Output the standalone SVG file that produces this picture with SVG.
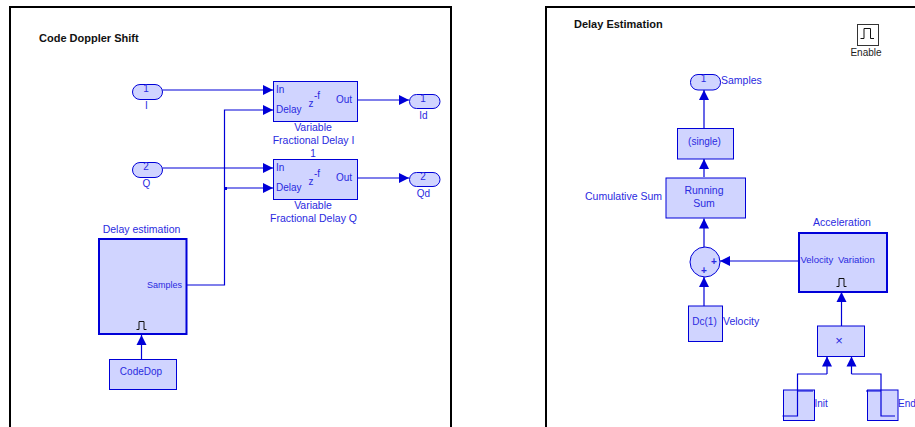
<svg xmlns="http://www.w3.org/2000/svg" width="915" height="427" viewBox="0 0 915 427">
<style>
text{font-family:"Liberation Sans",Arial,sans-serif;font-size:10px;fill:#2a2ae0}
.m{text-anchor:middle}
.e{text-anchor:end}
.l{font-size:10.500px}
.s{font-size:9px}
.t{font-size:11px;font-weight:bold;fill:#111}
.k{fill:#222}
.b{fill:#d0d4ff;stroke:#0000d8;stroke-width:1}
.h{fill:#d0d4ff;stroke:#0000d8;stroke-width:2}
.w{fill:none;stroke:#0000d8;stroke-width:1.200}
.p{fill:none;stroke:#111;stroke-width:1}
.f{fill:none;stroke:#000;stroke-width:2}
</style>
<defs>
<marker id="a" markerUnits="userSpaceOnUse" markerWidth="11" markerHeight="11" refX="10" refY="5.500" orient="auto"><path d="M0,0.500L10,5.500L0,10.500Z" fill="#0000d8"/></marker>
</defs>
<path class="f" d="M10,427V7H451V427"/>
<path class="f" d="M546,427V7H915"/>
<text class="t" x="39" y="41.500">Code Doppler Shift</text>
<text class="t" x="574" y="28">Delay Estimation</text>
<g id="connectors">
<path class="w" marker-end="url(#a)" d="M162.500,90H273"/>
<path class="w" marker-end="url(#a)" d="M162.500,168H273"/>
<path class="w" marker-end="url(#a)" d="M187,285H224.500V110H273"/>
<path class="w" marker-end="url(#a)" d="M224.500,188H273"/>
<path class="w" marker-end="url(#a)" d="M357,100H409"/>
<path class="w" marker-end="url(#a)" d="M357,178H409"/>
<path class="w" marker-end="url(#a)" d="M141.500,359V335"/>
<rect x="224" y="187" width="3" height="3" fill="#0000d8"/>
<path class="w" marker-end="url(#a)" d="M704,128V90"/>
<path class="w" marker-end="url(#a)" d="M704,177V159"/>
<path class="w" marker-end="url(#a)" d="M704,247V218.500"/>
<path class="w" marker-end="url(#a)" d="M704,306V277"/>
<path class="w" marker-end="url(#a)" d="M799,261H720"/>
<path class="w" marker-end="url(#a)" d="M841.500,326V292"/>
<path class="w" marker-end="url(#a)" d="M827,374V356.500"/>
<path class="w" marker-end="url(#a)" d="M851.500,374V356.500"/>
</g>
<g id="inport-I"><rect class="b" x="132.500" y="84.500" width="30" height="15" rx="7.500"/><text class="m" x="146" y="92">1</text><text class="m" x="146.500" y="108.500">I</text></g>
<g id="inport-Q"><rect class="b" x="132.500" y="162.500" width="30" height="15" rx="7.500"/><text class="m" x="146" y="170">2</text><text class="m" x="146.500" y="186.500">Q</text></g>
<g id="delay-I"><rect class="b" x="273.500" y="81.500" width="84" height="40"/><text x="276" y="92.500">In</text><text x="276" y="112.500">Delay</text><text x="308.500" y="107">z</text><text x="314" y="99">-f</text><text class="e" x="352" y="102.500">Out</text><text class="m l" x="313" y="130.500">Variable</text><text class="m l" x="313.500" y="143.500">Fractional Delay I</text></g>
<g id="delay-Q"><rect class="b" x="273.500" y="159.500" width="84" height="40"/><text class="m" x="313" y="156.500">1</text><text x="276" y="170.500">In</text><text x="276" y="190.500">Delay</text><text x="308.500" y="185">z</text><text x="314" y="177">-f</text><text class="e" x="352" y="180.500">Out</text><text class="m l" x="313" y="208.500">Variable</text><text class="m l" x="313.500" y="221.500">Fractional Delay Q</text></g>
<g id="outport-Id"><rect class="b" x="409.500" y="94.500" width="30.500" height="14" rx="7"/><text class="m" x="423" y="102">1</text><text class="m" x="423.500" y="118.500">Id</text></g>
<g id="outport-Qd"><rect class="b" x="409.500" y="172.500" width="30.500" height="14" rx="7"/><text class="m" x="423" y="180">2</text><text class="m" x="423.500" y="196.500">Qd</text></g>
<g id="delay-estimation"><rect class="h" x="99" y="239" width="87.500" height="95"/><text class="m l" x="141.500" y="232.500">Delay estimation</text><text class="e s" x="182" y="288">Samples</text><path class="p" d="M136.500,329.500H139V321.500H144V329.500H146.500"/></g>
<g id="codedop"><rect class="b" x="109.500" y="359.500" width="67" height="30"/><text class="m" x="141" y="375">CodeDop</text></g>
<g id="enable"><rect x="857.500" y="24.500" width="21" height="21" fill="#fff" stroke="#333" stroke-width="1"/><path class="p" d="M860.500,38.500H864V28.500H870.500V38.500H874"/><text class="m k" x="866" y="55.500">Enable</text></g>
<g id="outport-samples"><rect class="b" x="690.500" y="74.500" width="30" height="15.500" rx="7.500"/><text class="m" x="703.500" y="82">1</text><text class="l" x="721" y="83.500">Samples</text></g>
<g id="single"><rect class="b" x="677.500" y="128.500" width="56" height="30.500"/><text class="m" x="704.500" y="144.500">(single)</text></g>
<g id="running-sum"><rect class="b" x="666" y="178" width="79.500" height="40"/><text class="m l" x="704" y="193.500">Running</text><text class="m l" x="704" y="206.500">Sum</text><text class="e l" x="662" y="200">Cumulative Sum</text></g>
<g id="sum"><circle class="b" cx="705" cy="262" r="15"/><text class="m" x="714" y="264.500" style="font-weight:bold">+</text><text class="m" x="704" y="274" style="font-weight:bold">+</text></g>
<g id="dc"><rect class="b" x="688.500" y="306" width="34" height="35.500"/><text class="m" x="704.500" y="324.500">Dc(1)</text><text class="l" x="723" y="325">Velocity</text></g>
<g id="acceleration"><rect class="h" x="799" y="233" width="88" height="59"/><text class="m l" x="842" y="225.500">Acceleration</text><text x="800.500" y="263" style="font-size:9.500px;word-spacing:2px">Velocity Variation</text><path class="p" d="M836.500,286.500H839V278.500H844V286.500H846.500"/></g>
<g id="product"><rect class="b" x="817.500" y="326" width="47" height="30.500"/><text class="m" x="839" y="344.500" style="font-size:13px">×</text></g>
<g id="init"><rect class="b" x="783.500" y="390" width="31" height="30.500"/><path class="w" d="M827,374H797.500V416H782.500M797.500,391H813"/><text x="814.500" y="407">Init</text></g>
<g id="end"><rect class="b" x="867.500" y="390" width="30.500" height="30.500"/><path class="w" d="M851.500,374H881V416H895M881,391H866"/><text x="898" y="407">End</text></g>
</svg>
